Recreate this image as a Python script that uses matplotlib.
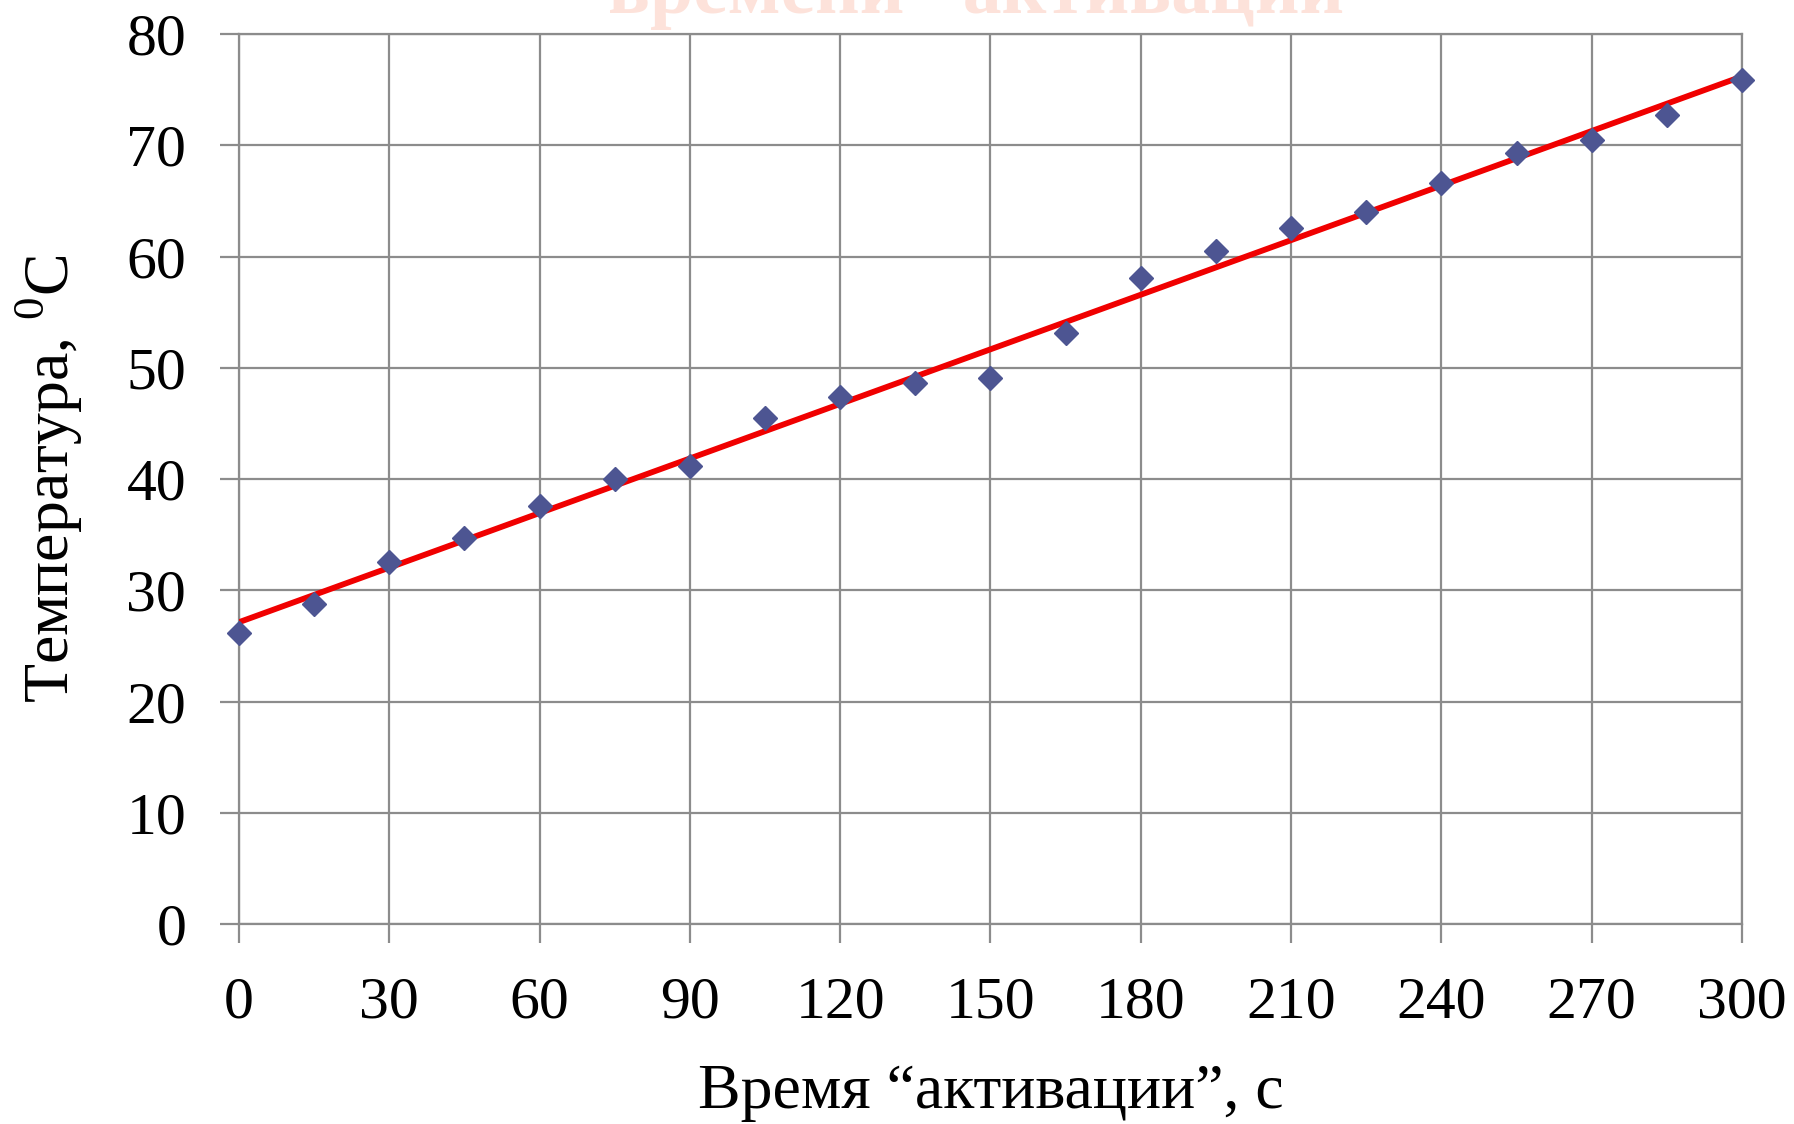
import matplotlib
matplotlib.use("Agg")
import matplotlib.pyplot as plt
import numpy as np

plt.rcParams['font.family'] = ['Liberation Serif', 'DejaVu Serif']
plt.rcParams['mathtext.fontset'] = 'custom'
plt.rcParams['mathtext.rm'] = 'Liberation Serif'

# время активации, с и температура, °C
time_s = [0, 15, 30, 45, 60, 75, 90, 105, 120, 135, 150,
          165, 180, 195, 210, 225, 240, 255, 270, 285, 300]
temp_c = [26.2, 28.8, 32.5, 34.7, 37.6, 40.0, 41.2, 45.5, 47.4, 48.6, 49.1,
          53.1, 58.1, 60.5, 62.6, 64.0, 66.6, 69.3, 70.5, 72.7, 75.9]
x_ticks = list(range(0, 301, 30))
y_ticks = list(range(0, 81, 10))

fig = plt.figure(figsize=(17.94, 11.24), dpi=100)
ax = fig.add_axes([0.1332, 0.1779, 0.8378, 0.7918])

grid_col = '#8c8c8c'
ax.grid(True, color=grid_col, lw=1.6)
ax.set_axisbelow(True)
for s in ax.spines.values():
    s.set_color(grid_col)
    s.set_linewidth(1.6)

# линейный тренд
k, b = np.polyfit(time_s, temp_c, 1)
xx = np.array([0, 300])
ax.plot(xx, k * xx + b, color='#f00000', lw=4.2, zorder=3)

ax.plot(time_s, temp_c, linestyle='none', marker='D', markersize=12,
        color='#4d5592', zorder=4, clip_on=False)

ax.set_xlim(0, 300)
ax.set_ylim(0, 80)
ax.set_xticks(x_ticks)
ax.set_yticks(y_ticks)
ax.tick_params(axis='both', labelsize=43, length=14, width=1.6,
               color=grid_col, pad=24)

ax.set_xlabel('Время “активации”, с', fontsize=46, labelpad=24)
ax.set_ylabel('Температура, $^{0}$C', fontsize=46, labelpad=30)

# остаток заголовка сверху
fig.text(0.555, 1.005, 'времени “активации”', fontsize=56, fontweight='bold',
         color='#fde2da', ha='center', va='center')

fig.savefig('out.png', dpi=100)
